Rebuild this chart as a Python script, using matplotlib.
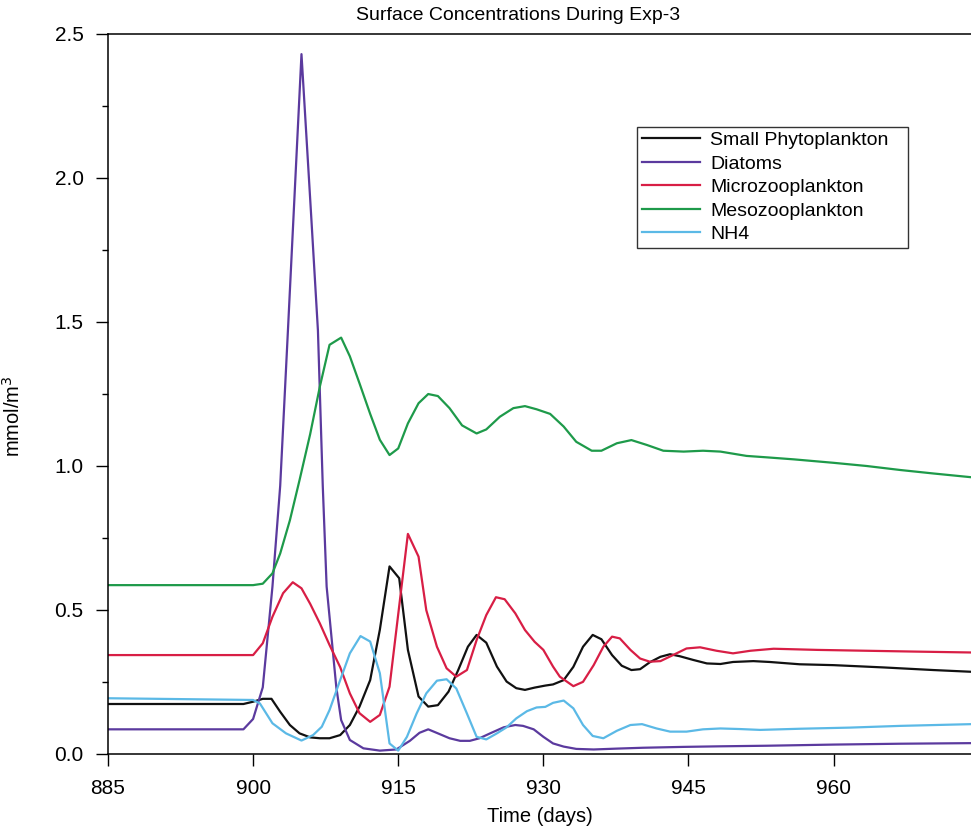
import matplotlib
matplotlib.use("Agg")
import matplotlib.pyplot as plt
from matplotlib.ticker import MultipleLocator, FormatStrFormatter

plt.rcParams["font.family"] = ["Liberation Sans", "DejaVu Sans"]

# values (days, mmol/m3)
sp_days = [885, 899, 900, 901, 901.9, 902.8, 903.8, 904.8, 905.9, 906.9, 907.9, 909, 910, 911,
           912.1, 913.1, 914.1, 915.1, 916, 917.1, 918.1, 919.1, 920.2, 921.2, 922.2, 923.1,
           924.1, 925.2, 926.2, 927.2, 928.1, 929.1, 930.2, 931, 932.1, 933.1, 934.1, 935.1,
           936, 937.1, 938.1, 939.1, 940, 941, 942.1, 943.1, 944.1, 945.5, 946.9, 948.3,
           949.6, 951.7, 953.4, 956.5, 960, 965.2, 970.3, 974.2]
sp_vals = [0.172, 0.172, 0.18, 0.19, 0.19, 0.145, 0.099, 0.07, 0.056, 0.053, 0.053, 0.064,
           0.099, 0.163, 0.255, 0.43, 0.65, 0.609, 0.36, 0.198, 0.163, 0.168, 0.215, 0.29,
           0.371, 0.412, 0.385, 0.302, 0.25, 0.227, 0.221, 0.229, 0.236, 0.24, 0.255, 0.301,
           0.371, 0.412, 0.397, 0.342, 0.305, 0.29, 0.293, 0.317, 0.336, 0.345, 0.338, 0.325,
           0.313, 0.311, 0.318, 0.321, 0.318, 0.31, 0.307, 0.299, 0.29, 0.284]

dt_days = [885, 899, 900, 901, 902, 902.8, 903.6, 905, 906, 906.7, 907.2, 907.6, 908.6, 909.1,
           910, 911.4, 913.1, 914.8, 916.2, 917.2, 918.1, 919.1, 920.3, 921.4, 922.4, 923.4,
           924.5, 925.9, 927.1, 927.9, 929, 930, 931, 932.1, 933.4, 935.2, 937.6, 940.3,
           944.5, 948.3, 953.1, 960, 966.9, 974.2]
dt_vals = [0.084, 0.084, 0.12, 0.23, 0.58, 0.93, 1.47, 2.43, 1.87, 1.47, 0.93, 0.58, 0.23,
           0.116, 0.047, 0.018, 0.01, 0.014, 0.044, 0.072, 0.084, 0.07, 0.053, 0.044, 0.044,
           0.053, 0.07, 0.091, 0.099, 0.096, 0.084, 0.058, 0.035, 0.024, 0.016, 0.014, 0.017,
           0.02, 0.023, 0.025, 0.027, 0.031, 0.034, 0.036]

mz_days = [885, 900, 901, 902, 903.1, 904.1, 905, 905.9, 906.9, 907.9, 909, 910, 911, 912.1,
           913.1, 914.1, 915.2, 916, 917.1, 917.9, 919, 920, 921, 922.1, 923.1, 924.1, 925.1,
           926, 927.1, 928.1, 929.1, 930, 931, 931.7, 933.1, 934.1, 935.2, 936.2, 937.1,
           937.9, 939, 940, 941, 942.1, 943.4, 944.8, 946.2, 947.9, 949.6, 951.4, 953.8,
           958.3, 963.4, 968.6, 974.2]
mz_vals = [0.342, 0.342, 0.383, 0.475, 0.557, 0.595, 0.574, 0.52, 0.452, 0.377, 0.30, 0.209,
           0.14, 0.11, 0.134, 0.232, 0.54, 0.763, 0.684, 0.498, 0.371, 0.296, 0.267, 0.29,
           0.394, 0.481, 0.543, 0.536, 0.487, 0.429, 0.388, 0.36, 0.302, 0.267, 0.234, 0.249,
           0.307, 0.371, 0.406, 0.4, 0.36, 0.33, 0.319, 0.321, 0.342, 0.365, 0.369, 0.357,
           0.348, 0.357, 0.364, 0.36, 0.357, 0.354, 0.351]

ms_days = [885, 900, 901, 902, 902.8, 903.8, 904.8, 905.9, 906.9, 907.9, 909.1, 910, 911,
           912.1, 913.1, 914.1, 915, 916, 917.1, 918.1, 919.1, 920.3, 921.6, 923.1, 924.1,
           925.5, 926.9, 928.1, 929.3, 930.7, 932.1, 933.4, 935, 936, 937.6, 939.1, 940.7,
           942.4, 944.5, 946.5, 948.3, 951, 953.1, 955.9, 960, 963.4, 966.9, 970.3, 974.2]
ms_vals = [0.585, 0.585, 0.59, 0.626, 0.695, 0.81, 0.95, 1.11, 1.275, 1.42, 1.445, 1.38,
           1.286, 1.18, 1.09, 1.037, 1.06, 1.147, 1.217, 1.249, 1.242, 1.2, 1.14, 1.112,
           1.126, 1.17, 1.2, 1.207, 1.196, 1.18, 1.136, 1.083, 1.052, 1.052, 1.078, 1.089,
           1.072, 1.052, 1.049, 1.052, 1.049, 1.034, 1.029, 1.022, 1.01, 0.999, 0.985,
           0.973, 0.96]

nh4_days = [885, 900, 900.7, 902, 903.4, 905, 906.2, 907.1, 907.9, 909, 910, 911.1, 912.1,
            913.1, 914.1, 915, 915.9, 916.9, 917.9, 919, 920, 921, 922.1, 923.1, 924.1,
            925.2, 926.2, 927.2, 928.3, 929.3, 930.2, 931, 932.1, 933.1, 934.1, 935.1, 936.2,
            937.6, 939, 940.2, 941.7, 943.1, 944.8, 946.5, 948.3, 950.3, 952.4, 956.5,
            961.7, 966.9, 974.2]
nh4_vals = [0.192, 0.186, 0.174, 0.105, 0.07, 0.045, 0.064, 0.093, 0.151, 0.255, 0.348,
            0.408, 0.389, 0.279, 0.035, 0.01, 0.058, 0.139, 0.209, 0.253, 0.258, 0.226,
            0.139, 0.058, 0.049, 0.07, 0.091, 0.122, 0.147, 0.16, 0.162, 0.176, 0.184,
            0.157, 0.099, 0.061, 0.053, 0.079, 0.099, 0.102, 0.087, 0.076, 0.076, 0.084,
            0.087, 0.085, 0.082, 0.086, 0.09, 0.096, 0.102]

x_ticks = [885, 900, 915, 930, 945, 960]

fig = plt.figure(figsize=(9.71, 8.35), dpi=100)
ax = fig.add_axes([0.1112, 0.0976, 0.8888, 0.8617])

lw = 1.6
ax.plot(sp_days, sp_vals, color="#111111", lw=lw, label="Small Phytoplankton")
ax.plot(dt_days, dt_vals, color="#5b3a9e", lw=lw, label="Diatoms")
ax.plot(mz_days, mz_vals, color="#d81e45", lw=lw, label="Microzooplankton")
ax.plot(ms_days, ms_vals, color="#1e9a4a", lw=lw, label="Mesozooplankton")
ax.plot(nh4_days, nh4_vals, color="#5bb9e6", lw=lw, label="NH4")

ax.set_xlim(885, 974.2)
ax.set_ylim(0, 2.5)
ax.set_xticks(x_ticks)
ax.yaxis.set_major_locator(MultipleLocator(0.5))
ax.yaxis.set_minor_locator(MultipleLocator(0.25))
ax.yaxis.set_major_formatter(FormatStrFormatter("%.1f"))
ax.tick_params(which="major", direction="out", length=8.5, width=1.0, labelsize=15)
ax.tick_params(axis="y", which="major", pad=9)
ax.tick_params(axis="x", which="major", pad=10)
ax.tick_params(which="minor", direction="out", length=4, width=1.0)
ax.spines["right"].set_visible(False)
for s in ("left", "top", "bottom"):
    ax.spines[s].set_linewidth(1.1)

ax.set_xlabel("Time (days)", fontsize=14.5, labelpad=6)
ax.set_ylabel("mmol/m$^3$", fontsize=14.5)
ax.yaxis.set_label_coords(-0.097, 0.469)
ax.set_title("Surface Concentrations During Exp-3", fontsize=14, x=0.475, pad=10)

leg = ax.legend(loc="upper left", bbox_to_anchor=(0.613, 0.70, 0.314, 0.171), mode="expand",
                borderaxespad=0, fontsize=14, frameon=True, fancybox=False,
                handlelength=3.0, labelspacing=0.3, borderpad=0.25, handletextpad=0.5)
leg.get_frame().set_edgecolor("black")
leg.get_frame().set_linewidth(1.0)

fig.savefig("out.png", dpi=100)
